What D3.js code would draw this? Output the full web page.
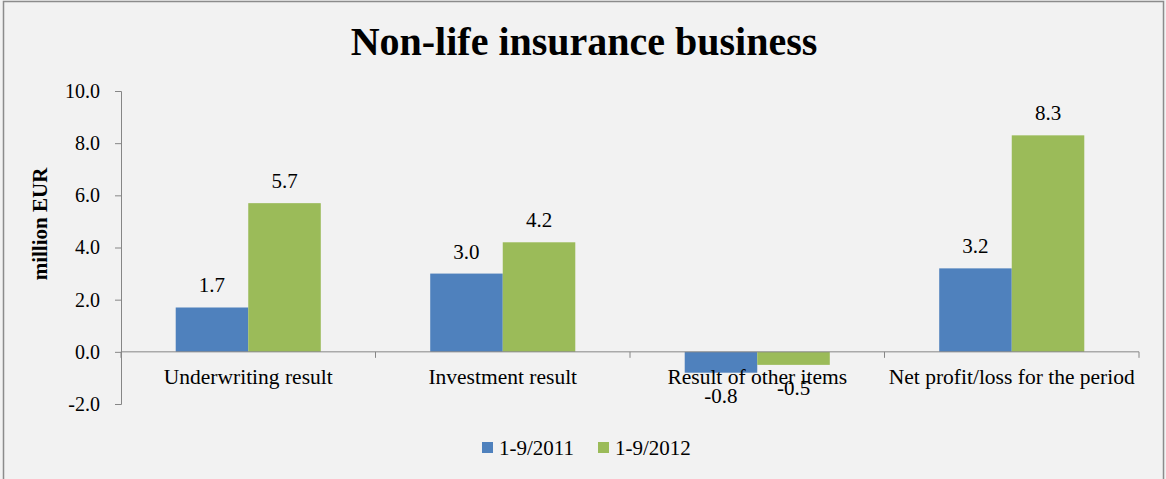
<!DOCTYPE html>
<html lang="en">
<head>
  <meta charset="UTF-8">
  <title>Non-life insurance business</title>
  <script src="https://cdnjs.cloudflare.com/ajax/libs/d3/7.8.5/d3.min.js"></script>
  <style>
    body { margin: 0; background: #f2f2f2; }
    svg { display: block; font-family: "Liberation Serif", "Times New Roman", serif; }
  </style>
</head>
<body>
  <script>
    // chart data
    const categories = ['Underwriting result', 'Investment result', 'Result of other items', 'Net profit/loss for the period'];
    const seriesNames = ['1-9/2011', '1-9/2012'];
    const values2011 = [1.7, 3.0, -0.8, 3.2];
    const values2012 = [5.7, 4.2, -0.5, 8.3];
    const yTicks = [-2, 0, 2, 4, 6, 8, 10];
    const colors = ['#4f81bd', '#9bbb59'];

    const width = 1166, height = 479;

    let svg = d3.select('body')
      .append('svg')
      .attr('width', width)
      .attr('height', height);

    //background + border
    svg.append('rect').attr('x', 3.5).attr('y', 1.5).attr('width', 1160).attr('height', 490)
      .attr('fill', '#f2f2f2').attr('stroke', '#8c8c8c').attr('stroke-width', 1.5);

    //scales
    let y = d3.scaleLinear().domain([-2, 10]).range([404, 91]);
    let x = d3.scaleBand().domain(categories).range([121, 1139]).paddingInner(0.43).paddingOuter(0.215);
    let xSub = d3.scaleBand().domain(seriesNames).range([0, x.bandwidth()]);

    const rows = categories.map((c, i) => ({ cat: c, vals: [values2011[i], values2012[i]] }));

    //bars
    let groups = svg.selectAll('.grp').data(rows).enter().append('g')
      .attr('transform', d => `translate(${x(d.cat)},0)`);

    groups.selectAll('rect').data(d => d.vals.map((v, j) => ({ v, name: seriesNames[j], j })))
      .enter().append('rect')
      .attr('x', d => xSub(d.name))
      .attr('y', d => y(Math.max(0, d.v)))
      .attr('width', xSub.bandwidth())
      .attr('height', d => Math.abs(y(d.v) - y(0)))
      .attr('fill', d => colors[d.j]);

    //value labels
    groups.selectAll('text').data(d => d.vals.map((v, j) => ({ v, name: seriesNames[j] })))
      .enter().append('text')
      .attr('x', d => xSub(d.name) + xSub.bandwidth() / 2)
      .attr('y', d => d.v >= 0 ? y(d.v) - 15 : y(d.v) + 30)
      .attr('text-anchor', 'middle')
      .attr('font-size', 21)
      .attr('fill', '#000')
      .text(d => d.v.toFixed(1));

    //y axis
    let yAxis = svg.append('g').attr('transform', 'translate(121,0)')
      .call(d3.axisLeft(y).tickValues(yTicks).tickSize(6).tickPadding(15).tickFormat(d => d.toFixed(1)));
    yAxis.select('.domain').attr('stroke', '#868686');
    yAxis.selectAll('.tick line').attr('stroke', '#868686');
    yAxis.selectAll('text').attr('font-size', 20).attr('font-family', '"Liberation Serif", serif').attr('fill', '#000');

    //x axis (zero line with ticks at category boundaries)
    let bounds = d3.range(categories.length + 1).map(i => 121 + i * x.step());
    svg.append('line').attr('x1', 121).attr('x2', 1139).attr('y1', y(0)).attr('y2', y(0))
      .attr('stroke', '#868686');
    svg.selectAll('.xtick').data(bounds).enter().append('line')
      .attr('x1', d => d).attr('x2', d => d)
      .attr('y1', y(0)).attr('y2', y(0) + 6)
      .attr('stroke', '#868686');

    svg.selectAll('.xlab').data(categories).enter().append('text')
      .attr('x', d => x(d) + x.bandwidth() / 2)
      .attr('y', 384)
      .attr('text-anchor', 'middle')
      .attr('font-size', 21.5)
      .text(d => d);

    //title
    svg.append('text').attr('x', 584).attr('y', 55).attr('text-anchor', 'middle')
      .attr('font-size', 40).attr('font-weight', 'bold').text('Non-life insurance business');

    //y axis title
    svg.append('text').attr('transform', 'translate(47,224) rotate(-90)')
      .attr('text-anchor', 'middle').attr('font-size', 21).attr('font-weight', 'bold')
      .text('million EUR');

    //legend
    let legendX = [482, 598];
    let legend = svg.selectAll('.leg').data(seriesNames).enter().append('g')
      .attr('transform', (d, i) => `translate(${legendX[i]},442)`);
    legend.append('rect').attr('width', 11).attr('height', 11).attr('fill', (d, i) => colors[i]);
    legend.append('text').attr('x', 17).attr('y', 13).attr('font-size', 21).text(d => d);
  </script>
</body>
</html>
